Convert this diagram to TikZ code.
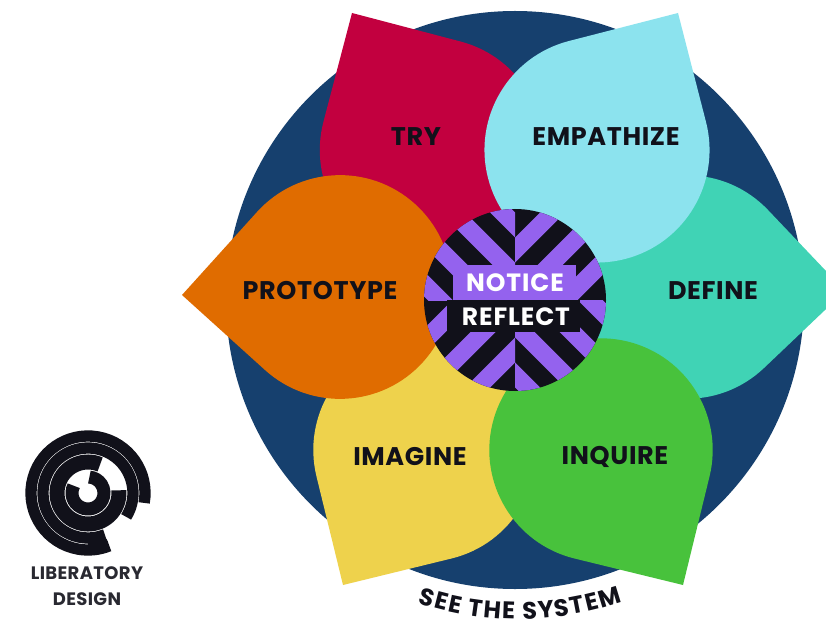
\documentclass[tikz,border=0pt]{standalone}
\usepackage{fontspec}
\setmainfont{Poppins}
\usetikzlibrary{decorations.text,calc}
\definecolor{navy}{HTML}{16406E}
\definecolor{tryred}{HTML}{C2003F}
\definecolor{empblue}{HTML}{8CE3EE}
\definecolor{defteal}{HTML}{40D3B5}
\definecolor{inqgreen}{HTML}{48C23C}
\definecolor{imgyellow}{HTML}{EED24C}
\definecolor{proorange}{HTML}{E06C00}
\definecolor{notpurple}{HTML}{9462EE}
\definecolor{inkdark}{HTML}{11111A}
\tikzset{
  petallabel/.style={text=inkdark,font=\fontsize{25.5}{26}\bfseries\addfontfeature{LetterSpace=2.5}\selectfont,inner sep=0pt,anchor=center},
  centerlabel/.style={text=white,font=\fontsize{25}{25}\bfseries\addfontfeature{LetterSpace=3.5}\selectfont,inner sep=0pt,anchor=center},
  logotext/.style={text=inkdark!90,font=\fontsize{18}{18}\bfseries\addfontfeature{LetterSpace=2}\selectfont,inner sep=0pt,anchor=center},
  ringstroke/.style={draw=inkdark,line cap=butt}
}
\newcommand{\logoarc}[4]{% radius, width, start, end
  \draw[ringstroke,line width=#2pt] ($(logoc)+(#3:#1pt)$) arc[start angle=#3,end angle=#4,radius=#1pt];}
% teardrop: colour, centre x, centre y, tip x, tip y (a circle with a right-angled corner)
\newcommand{\petal}[5]{%
  \pgfmathsetmacro\pvx{#4-#2}\pgfmathsetmacro\pvy{#5-#3}%
  \pgfmathsetmacro\pax{0.5*(\pvx-\pvy)}\pgfmathsetmacro\pay{0.5*(\pvx+\pvy)}%
  \pgfmathsetmacro\pbx{-\pay}\pgfmathsetmacro\pby{\pax}%
  \pgfmathsetmacro\pk{0.5523}%
  \fill[#1] (#4,#5) -- ({#2+\pax},{#3+\pay})
   .. controls ({#2+\pax+\pk*\pbx},{#3+\pay+\pk*\pby}) and ({#2+\pbx+\pk*\pax},{#3+\pby+\pk*\pay}) .. ({#2+\pbx},{#3+\pby})
   .. controls ({#2+\pbx-\pk*\pax},{#3+\pby-\pk*\pay}) and ({#2-\pax+\pk*\pbx},{#3-\pay+\pk*\pby}) .. ({#2-\pax},{#3-\pay})
   .. controls ({#2-\pax-\pk*\pbx},{#3-\pay-\pk*\pby}) and ({#2-\pbx-\pk*\pax},{#3-\pby-\pk*\pay}) .. ({#2-\pbx},{#3-\pby})
   -- cycle;}
\begin{document}
\begin{tikzpicture}[x=1pt,y=-1pt]
\useasboundingbox (0,0) rectangle (826,620);
\clip (0,0) rectangle (826,620);
\fill[white] (0,0) rectangle (826,620);
\fill[navy] (515,300) circle[radius=289pt];
% petals
\petal{tryred}{432}{150}{352}{13}
\petal{defteal}{687}{287}{845}{291}
\petal{imgyellow}{425}{450}{343}{585}
\petal{proorange}{340}{287}{182}{295}
\petal{empblue}{597}{150}{678}{13}
\petal{inqgreen}{601}{450}{683}{585}
% centre disc
\begin{scope}
\clip (515,300) circle[radius=91pt];
\fill[inkdark] (415,200) rectangle (615,400);
\begin{scope}
\clip (415,200) rectangle (515,300);
\foreach \v in {-75,-25,25,75}{
  \fill[notpurple] ($(515,300)+(\v-12.5,0)+(-120,-120)$) -- ($(515,300)+(\v+12.5,0)+(-120,-120)$)
    -- ($(515,300)+(\v+12.5,0)+(20,20)$) -- ($(515,300)+(\v-12.5,0)+(20,20)$) -- cycle;}
\end{scope}
\begin{scope}
\clip (515,300) rectangle (615,400);
\foreach \v in {-75,-25,25,75}{
  \fill[notpurple] ($(515,300)+(\v-12.5,0)+(-20,-20)$) -- ($(515,300)+(\v+12.5,0)+(-20,-20)$)
    -- ($(515,300)+(\v+12.5,0)+(120,120)$) -- ($(515,300)+(\v-12.5,0)+(120,120)$) -- cycle;}
\end{scope}
\begin{scope}
\clip (515,200) rectangle (615,300);
\foreach \w in {-50,0,50}{
  \fill[notpurple] ($(515,300)+(\w-12.5,0)+(-20,20)$) -- ($(515,300)+(\w+12.5,0)+(-20,20)$)
    -- ($(515,300)+(\w+12.5,0)+(120,-120)$) -- ($(515,300)+(\w-12.5,0)+(120,-120)$) -- cycle;}
\end{scope}
\begin{scope}
\clip (415,300) rectangle (515,400);
\foreach \w in {-50,0,50}{
  \fill[notpurple] ($(515,300)+(\w-12.5,0)+(-120,120)$) -- ($(515,300)+(\w+12.5,0)+(-120,120)$)
    -- ($(515,300)+(\w+12.5,0)+(20,-20)$) -- ($(515,300)+(\w-12.5,0)+(20,-20)$) -- cycle;}
\end{scope}
\fill[notpurple] (453,265) rectangle (576,300);
\fill[inkdark] (447,300) rectangle (580,332);
\end{scope}
% labels
\node[petallabel] (try) at (416,137) {TRY};
\node[petallabel] (empathize) at (606,137) {EMPATHIZE};
\node[petallabel] (define) at (713,291) {DEFINE};
\node[petallabel] (prototype) at (320,291) {PROTOTYPE};
\node[petallabel] (imagine) at (410,457) {IMAGINE};
\node[petallabel] (inquire) at (615,457) {INQUIRE};
\node[centerlabel] (notice) at (515,283) {NOTICE};
\node[centerlabel] (reflect) at (516,317) {REFLECT};
% curved label
\path[decorate,decoration={text along path,text align={fit to path},
  text={|\fontsize{24}{24}\bfseries\selectfont\color{inkdark}|SEE THE SYSTEM}}]
  (418,603) .. controls (485,625) and (555,625) .. (622,602);
% logo
\coordinate (logoc) at (88,493);
\logoarc{57}{11.3}{-10}{292}
\logoarc{45}{11.3}{-32}{292}
\logoarc{51}{3}{270}{292}
\logoarc{31}{15}{67}{365}
\logoarc{16}{13}{153}{445}
\node[logotext] (liberatory) at (87,573) {LIBERATORY};
\node[logotext] (design) at (87,599) {DESIGN};
\end{tikzpicture}
\end{document}
